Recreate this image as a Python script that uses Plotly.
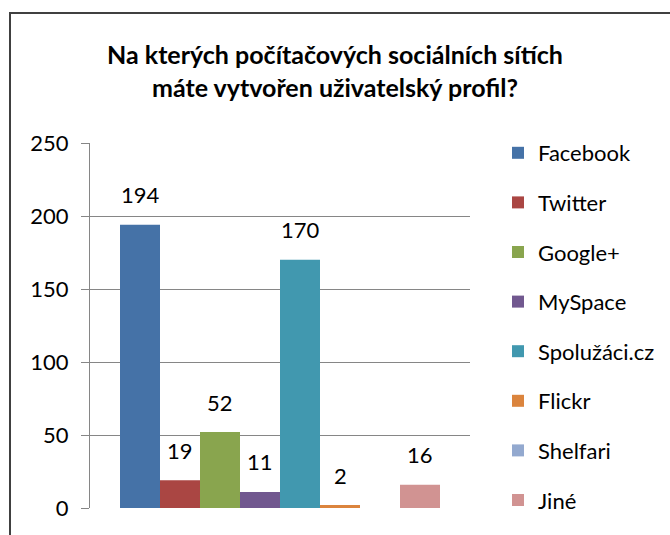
import plotly.graph_objects as go

categories = ["Facebook", "Twitter", "Google+", "MySpace", "Spolužáci.cz", "Flickr", "Shelfari", "Jiné"]
values = [194, 19, 52, 11, 170, 2, 0, 16]
labels = ["194", "19", "52", "11", "170", "2", "", "16"]
colors = ["#4572A7", "#AA4643", "#89A54E", "#71588F", "#4198AF", "#DB843D", "#93A9CF", "#D19392"]
yticks = [0, 50, 100, 150, 200, 250]

FONT = "Lato"
W, H = 670, 535
ML, MR, MT, MB = 90, 10, 100, 27
GW, GH = W - ML - MR, H - MT - MB

fig = go.Figure()
for c, v, col in zip(categories, values, colors):
    fig.add_trace(go.Bar(
        x=[c], y=[v], name=c, marker=dict(color=col, line=dict(width=0)),
        width=1.0, legendgroup=c, hoverinfo="skip",
    ))
for c, v, lab in zip(categories, values, labels):
    if lab:
        fig.add_annotation(x=c, y=v, text=lab, showarrow=False, yshift=30,
                           xanchor="center", yanchor="middle",
                           font=dict(family=FONT, size=22, color="#000000"))

fig.update_layout(
    width=W, height=H,
    margin=dict(l=ML, r=MR, t=MT, b=MB, autoexpand=False),
    paper_bgcolor="white", plot_bgcolor="white",
    barmode="overlay",
    title=dict(text="Na kterých počítačových sociálních sítích<br>máte vytvořen uživatelský profil?",
               x=0.5, xanchor="center", y=(535 - 64) / 535, yanchor="middle",
               font=dict(family=FONT, size=25, color="#000000", weight="bold")),
    showlegend=True,
    legend=dict(x=(498 - ML) / GW, xanchor="left", y=(MT + GH - 132) / GH, yanchor="top",
                font=dict(family=FONT, size=22, color="#000000"),
                tracegroupgap=18, bgcolor="rgba(0,0,0,0)"),
)
fig.update_xaxes(domain=[0, 380 / GW], range=[-1.25, 8.25], categoryorder="array",
                 categoryarray=categories, showticklabels=False, showgrid=False,
                 zeroline=False, showline=False, fixedrange=True)
fig.update_yaxes(domain=[0, 365 / GH], range=[0, 250], tickvals=yticks,
                 ticktext=[str(t) for t in yticks],
                 showgrid=True, gridcolor="#868686", gridwidth=1,
                 showline=True, linecolor="#868686", linewidth=1,
                 ticks="outside", ticklen=8, tickcolor="#868686",
                 zeroline=False, ticklabelstandoff=8,
                 tickfont=dict(family=FONT, size=22, color="#000000"))
fig.add_shape(type="rect", xref="paper", yref="paper",
              x0=(10 - ML) / GW, x1=(700 - ML) / GW,
              y0=-(MB + 20) / GH, y1=(MT + GH - 13) / GH,
              line=dict(color="#404040", width=2), fillcolor="rgba(0,0,0,0)", layer="below")
fig.write_html("out.html", config={"displayModeBar": False},
               post_script="document.body.style.margin='0';document.body.style.overflow='hidden';")
